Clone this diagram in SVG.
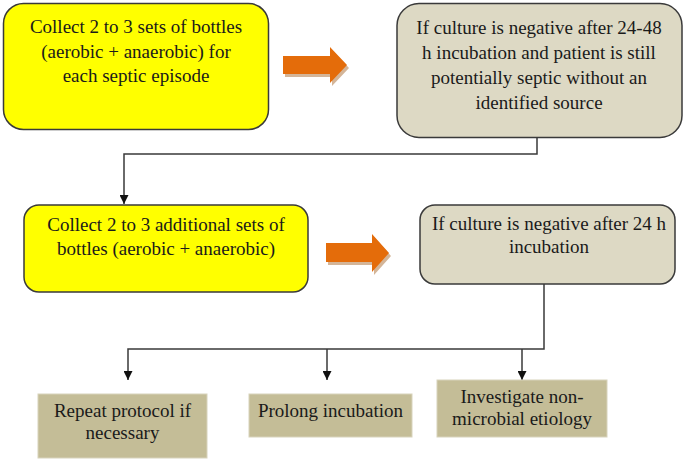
<svg xmlns="http://www.w3.org/2000/svg" width="685" height="461" viewBox="0 0 685 461">
  <style>
    text { font-family: 'Liberation Serif', 'DejaVu Serif', serif; font-size: 19px; fill: #1a1a1a; text-anchor: middle; }
    .yellow { fill: #FFFF00; stroke: #3a3a3a; stroke-width: 1.5; }
    .grey { fill: #DDD9C4; stroke: #3a3a3a; stroke-width: 1.5; }
    .tan { fill: #C4BD97; stroke: #D8D3BC; stroke-width: 1; }
    .conn { fill: none; stroke: #3a3a3a; stroke-width: 1.5; }
    .arrow { fill: #E46C0A; }
    .shadow { fill: #C9A27E; opacity: 0.8; }
  </style>
  <defs>
    <marker id="ah" markerUnits="userSpaceOnUse" markerWidth="9" markerHeight="9" refX="9" refY="4.5" orient="auto">
      <path d="M0,0 L9,4.5 L0,9 z" fill="#111"/>
    </marker>
  </defs>
  <rect width="685" height="461" fill="#ffffff"/>

  <g id="connectors">
    <path class="conn" d="M537 138 V154 H124 V204" marker-end="url(#ah)"/>
    <path class="conn" d="M544 284 V349 H128 V380" marker-end="url(#ah)"/>
    <path class="conn" d="M327 349 V380" marker-end="url(#ah)"/>
    <path class="conn" d="M522 349 V380" marker-end="url(#ah)"/>
  </g>

  <g id="block-arrow-1">
    <polygon class="shadow" points="285,59 332,59 332,50 349,68 332,86 332,77 285,77"/>
    <polygon class="arrow" points="283,56 330,56 330,47 347,65 330,83 330,74 283,74"/>
  </g>
  <g id="block-arrow-2">
    <polygon class="shadow" points="328,246 374,246 374,237 391,256 374,275 374,265 328,265"/>
    <polygon class="arrow" points="326,243 372,243 372,234 389,253 372,272 372,262 326,262"/>
  </g>

  <g id="node-collect1">
    <rect class="yellow" x="3.5" y="3.5" width="265" height="126" rx="20" ry="20"/>
    <text x="136" y="33">Collect 2 to 3 sets of bottles</text>
    <text x="136" y="57.5">(aerobic + anaerobic) for</text>
    <text x="136" y="82">each septic episode</text>
  </g>

  <g id="node-negative1">
    <rect class="grey" x="397" y="3.5" width="285" height="134" rx="22" ry="22"/>
    <text x="539" y="34">If culture is negative after 24-48</text>
    <text x="539" y="58.5">h incubation and patient is still</text>
    <text x="539" y="83.5">potentially septic without an</text>
    <text x="539" y="108.5">identified source</text>
  </g>

  <g id="node-collect2">
    <rect class="yellow" x="24" y="205" width="284" height="87" rx="15" ry="15"/>
    <text x="166" y="231">Collect 2 to 3 additional sets of</text>
    <text x="166" y="255">bottles (aerobic + anaerobic)</text>
  </g>

  <g id="node-negative2">
    <rect class="grey" x="420" y="205" width="255" height="79" rx="15" ry="15"/>
    <text x="549" y="230">If culture is negative after 24 h</text>
    <text x="549" y="253">incubation</text>
  </g>

  <g id="node-repeat">
    <rect class="tan" x="38" y="394" width="169" height="64"/>
    <text x="122.5" y="417">Repeat protocol if</text>
    <text x="122.5" y="439">necessary</text>
  </g>

  <g id="node-prolong">
    <rect class="tan" x="249" y="394" width="163" height="43"/>
    <text x="330.5" y="417">Prolong incubation</text>
  </g>

  <g id="node-investigate">
    <rect class="tan" x="437" y="380" width="170" height="57"/>
    <text x="522" y="403">Investigate non-</text>
    <text x="522" y="425">microbial etiology</text>
  </g>
</svg>
